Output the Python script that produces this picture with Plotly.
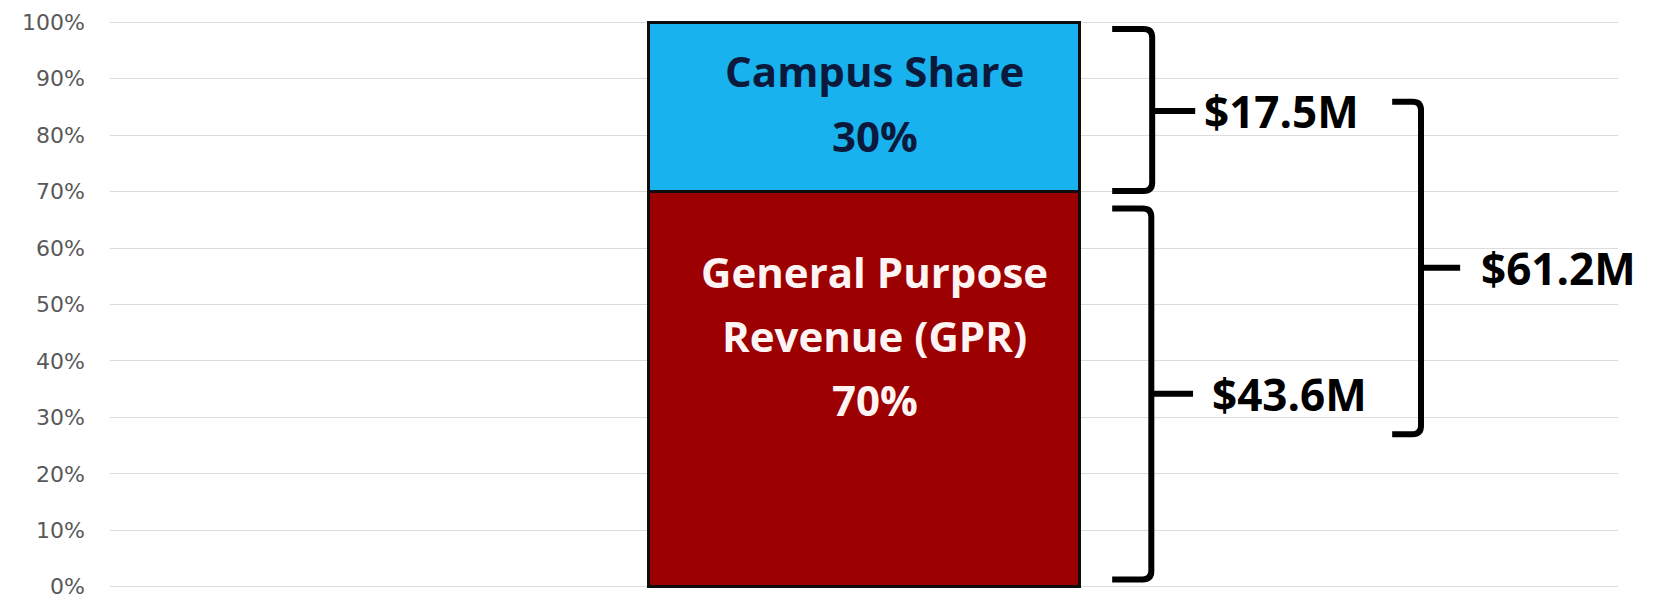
import plotly.graph_objects as go

# data
segments = ["General Purpose<br>Revenue (GPR)", "Campus Share"]
shares = [70, 30]                      # percent of total
amounts = ["$43.6M", "$17.5M"]         # dollar value of each segment
total_label = "$61.2M"
y_ticks = list(range(0, 101, 10))
y_tick_text = [f"{v}%" for v in y_ticks]

bar_colors = ["#9c0000", "#18b3ee"]
text_colors = ["#fff4f4", "#0b1a3c"]

fig = go.Figure()

# stacked bar, one trace per segment
for name, val, col in zip(segments, shares, bar_colors):
    fig.add_trace(go.Bar(
        x=[0], y=[val], width=1, name=name.replace("<br>", " "),
        marker=dict(color=col, line=dict(color="#0d0d0d", width=3)),
        hoverinfo="skip",
    ))

# text inside the bar
cum = 0
for name, val, tcol in zip(segments, shares, text_colors):
    lines = name.split("<br>") + [f"{val}%"]
    mid = cum + val / 2
    # GPR text sits higher in its block than the Campus text
    centre = mid + (9.5 if val > 50 else 0.7)
    step = 11.4  # ~64px between lines
    top = centre + step * (len(lines) - 1) / 2
    for i, ln in enumerate(lines):
        fig.add_annotation(x=0.025, y=top - i * step, text=f"<b>{ln}</b>",
                           showarrow=False, xanchor="center", yanchor="middle",
                           font=dict(family="Open Sans", size=42, color=tcol, weight=800))
    cum += val


def brace(x_tip, x_vert, x_end, y_top, y_bot, y_mid):
    # curly bracket: tips on the left, spine on the right, tick pointing right
    dx, dy = 0.02, 1.5
    path = (f"M {x_tip},{y_top} L {x_vert - dx},{y_top} "
            f"Q {x_vert},{y_top} {x_vert},{y_top - dy} "
            f"L {x_vert},{y_bot + dy} Q {x_vert},{y_bot} {x_vert - dx},{y_bot} "
            f"L {x_tip},{y_bot} M {x_vert},{y_mid} L {x_end},{y_mid}")
    fig.add_shape(type="path", path=path, xref="x", yref="y",
                  line=dict(color="black", width=6))


gpr, campus = shares
mid_campus = gpr + campus / 2 - 0.7
mid_gpr = gpr / 2 - 0.8

brace(0.577, 0.670, 0.77, gpr + campus - 1.2, gpr + 0.1, mid_campus)
brace(0.577, 0.668, 0.765, gpr - 3, 1.3, mid_gpr)
brace(1.228, 1.295, 1.386, mid_campus + 1.6, mid_gpr - 7.2, 56.5)

label_font = dict(family="Open Sans", size=44, color="black", weight=800)
fig.add_annotation(x=0.786, y=mid_campus, text=f"<b>{amounts[1]}</b>", showarrow=False,
                   xanchor="left", yanchor="middle", font=label_font)
fig.add_annotation(x=0.805, y=mid_gpr, text=f"<b>{amounts[0]}</b>", showarrow=False,
                   xanchor="left", yanchor="middle", font=label_font)
fig.add_annotation(x=1.430, y=56.5, text=f"<b>{total_label}</b>", showarrow=False,
                   xanchor="left", yanchor="middle", font=label_font)

fig.update_layout(
    barmode="stack",
    width=1656, height=599,
    margin=dict(l=110, r=38, t=20, b=10),
    plot_bgcolor="white", paper_bgcolor="white",
    showlegend=False,
    xaxis=dict(range=[-1.753, 1.753], showticklabels=False, showgrid=False,
               zeroline=False, fixedrange=True),
    # padded a hair so the 0% and 100% gridlines are drawn
    yaxis=dict(range=[-0.4, 100.4], tickmode="array", tickvals=y_ticks, ticktext=y_tick_text,
               gridcolor="#dcdcdc", gridwidth=1, zeroline=False,
               tickfont=dict(family="DejaVu Sans", size=22, color="#595959"),
               ticklabelstandoff=24, ticklabeloverflow="allow",
               fixedrange=True, automargin=False),
)

fig.write_html("out.html", config={"displayModeBar": False},
               post_script="document.body.style.margin='0';")
